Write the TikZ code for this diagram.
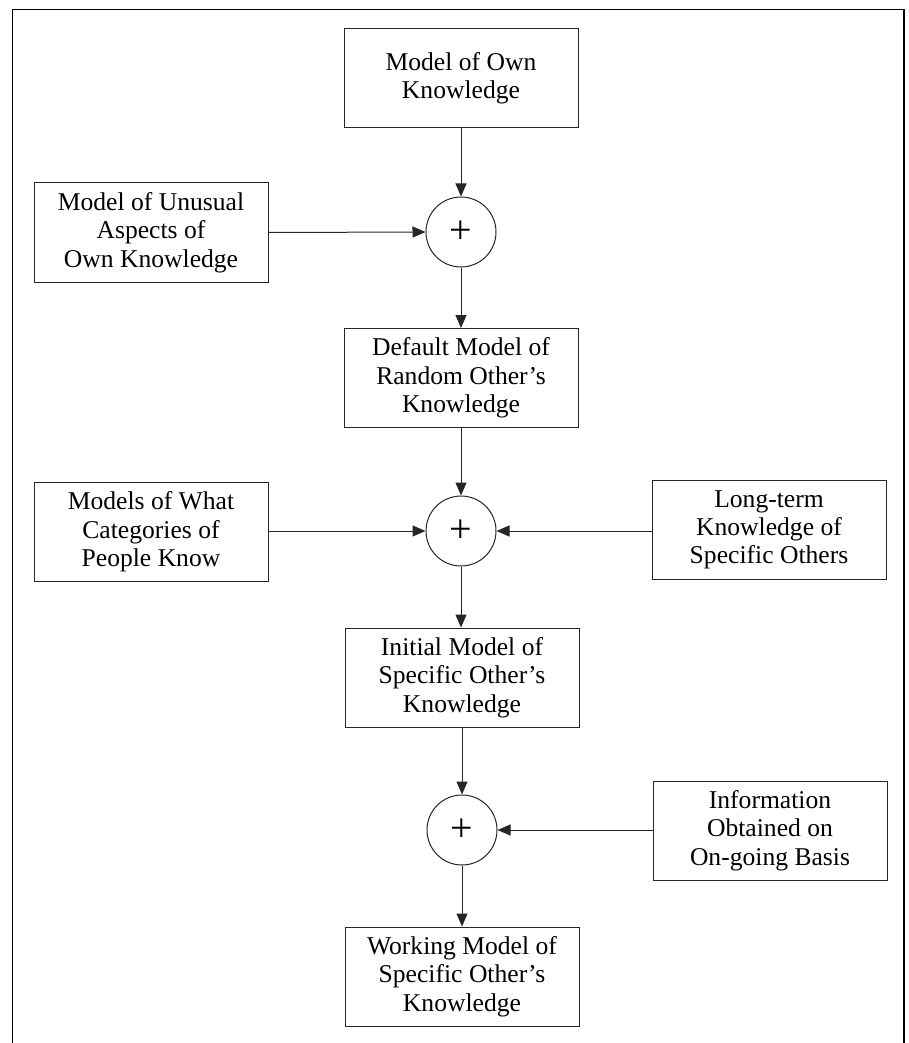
\documentclass[tikz,border=0pt]{standalone}
\usepackage{fontspec}
\setmainfont{Liberation Serif}
\usetikzlibrary{arrows.meta}
\begin{document}
\begin{tikzpicture}[x=1pt,y=-1pt,
  box/.style={draw=black!85, line width=1pt, minimum width=234pt, minimum height=99pt,
    align=center, inner sep=0pt, font=\fontsize{25.6}{28.3}\selectfont},
  sumnode/.style={draw=black!85, circle, line width=1pt, minimum size=70pt, inner sep=0pt,
    font=\fontsize{40}{40}\selectfont},
  arr/.style={line width=1pt, draw=black!85, -{Triangle[length=13pt,width=11pt]}},
  frame/.style={line width=1.4pt}]
\useasboundingbox (0,0) rectangle (909,1043);
\draw[frame] (12.7,1043) -- (12.7,9.3) -- (904,9.3) -- (904,1043);

\node[box] (own) at (461,78.5) {Model of Own\\Knowledge};
\node[box] (unusual) at (151,232.5) {Model of Unusual\\Aspects of\\Own Knowledge};
\node[sumnode] (p1) at (461,232) {+};
\node[box] (default) at (461,378) {Default Model of\\Random Other's\\Knowledge};
\node[box] (cats) at (151,532) {Models of What\\Categories of\\People Know};
\node[sumnode] (p2) at (461,531) {+};
\node[box] (longterm) at (769,530) {Long-term\\Knowledge of\\Specific Others};
\node[box] (initial) at (462,677.5) {Initial Model of\\Specific Other's\\Knowledge};
\node[sumnode] (p3) at (462,830) {+};
\node[box] (info) at (770,830.5) {Information\\Obtained on\\On-going Basis};
\node[box] (working) at (462,976.5) {Working Model of\\Specific Other's\\Knowledge};

\draw[arr] (own.south) -- (p1.north);
\draw[arr] (unusual.east) -- (p1.west);
\draw[arr] (p1.south) -- (default.north);
\draw[arr] (default.south) -- (default.south |- p2.north);
\draw[arr] (cats.east |- p2.west) -- (p2.west);
\draw[arr] (longterm.west |- p2.east) -- (p2.east);
\draw[arr] (p2.south) -- (p2.south |- initial.north);
\draw[arr] (initial.south) -- (p3.north);
\draw[arr] (info.west |- p3.east) -- (p3.east);
\draw[arr] (p3.south) -- (working.north);
\end{tikzpicture}
\end{document}
